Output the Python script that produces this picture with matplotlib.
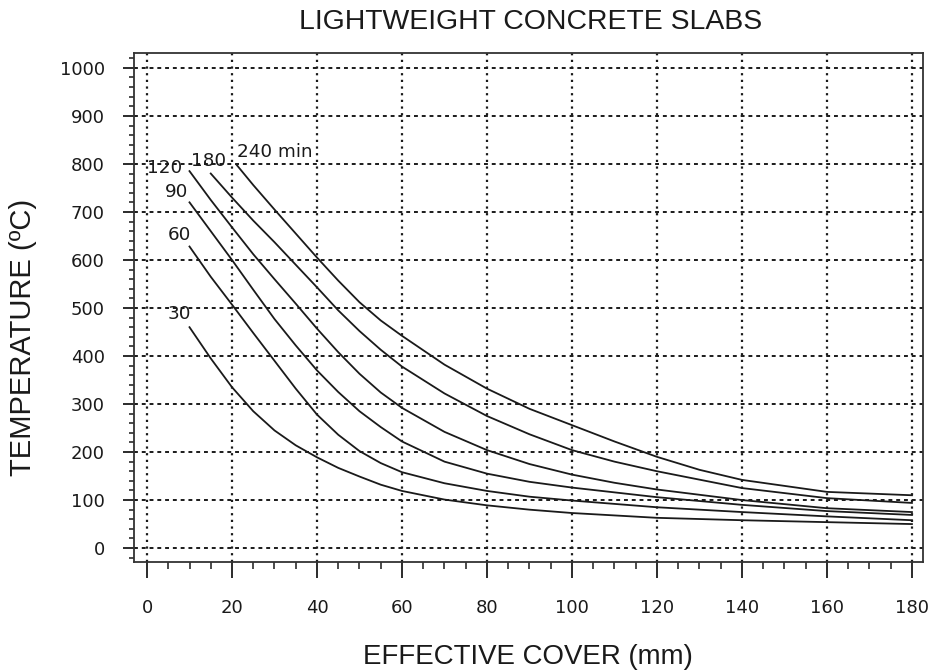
import matplotlib
matplotlib.use("Agg")
import matplotlib.pyplot as plt
from matplotlib.ticker import MultipleLocator

# Fire exposure durations and the label drawn next to each curve
durations = ["30", "60", "90", "120", "180", "240 min"]

# Effective cover (mm) and temperature (deg C) for each fire duration
cover_30 = [10, 15, 20, 25, 30, 35, 40, 45, 50, 55, 60, 70, 80, 90, 100, 110, 120, 140, 160, 180]
temp_30 = [460, 395, 335, 285, 245, 214, 189, 167, 149, 132, 119, 101, 89, 80, 73, 68, 63, 58, 54, 50]

cover_60 = [10, 15, 20, 25, 30, 35, 40, 45, 50, 55, 60, 70, 80, 90, 100, 110, 120, 140, 160, 180]
temp_60 = [628, 565, 507, 448, 390, 332, 278, 236, 202, 177, 158, 135, 119, 107, 99, 92, 85, 75, 66, 58]

cover_90 = [10, 15, 20, 25, 30, 35, 40, 45, 50, 55, 60, 70, 80, 90, 100, 110, 120, 140, 160, 180]
temp_90 = [720, 660, 600, 538, 477, 422, 370, 325, 285, 252, 222, 180, 155, 138, 126, 116, 106, 90, 77, 69]

cover_120 = [10, 15, 20, 25, 30, 35, 40, 45, 50, 55, 60, 70, 80, 90, 100, 110, 120, 140, 160, 180]
temp_120 = [785, 725, 668, 612, 560, 509, 457, 408, 363, 324, 292, 242, 204, 175, 153, 136, 122, 100, 83, 75]

cover_180 = [15, 20, 25, 30, 35, 40, 45, 50, 55, 60, 70, 80, 90, 100, 110, 120, 140, 160, 180]
temp_180 = [780, 730, 682, 637, 590, 543, 495, 452, 413, 378, 322, 275, 237, 204, 180, 160, 125, 104, 94]

cover_240 = [21, 25, 30, 35, 40, 45, 50, 55, 60, 70, 80, 90, 100, 110, 120, 130, 140, 160, 180]
temp_240 = [799, 756, 705, 655, 605, 557, 512, 474, 442, 382, 332, 290, 256, 222, 190, 163, 142, 117, 110]

# Anchor (cover, temperature) of each curve label
label_x = [4.9, 4.9, 4.2, 0.0, 10.4, 21.2]
label_y = [487, 652, 742, 792, 806, 825]

x_ticks = list(range(0, 181, 20))
y_ticks = list(range(0, 1001, 100))

curves = [
    (cover_30, temp_30),
    (cover_60, temp_60),
    (cover_90, temp_90),
    (cover_120, temp_120),
    (cover_180, temp_180),
    (cover_240, temp_240),
]

plt.rcParams["font.family"] = ["DejaVu Sans"]
ink = "#1a1a1a"
label_font = ["Liberation Sans", "DejaVu Sans"]

fig = plt.figure(figsize=(9.32, 6.70), dpi=100)
ax = fig.add_axes([134 / 932, 1 - 562 / 670, (923 - 134) / 932, (562 - 53) / 670])

ax.set_xlim(-3.06, 182.6)
ax.set_ylim(-29, 1031)

# Grid: dashed horizontals, dotted verticals
for yv in y_ticks:
    ax.axhline(yv, color=ink, lw=1.4, ls=(0, (2.0, 2.0)), zorder=1)
for xv in x_ticks:
    ax.axvline(xv, color=ink, lw=1.6, ls=(0, (1.0, 2.0)), zorder=1)

for (cx, ty) in curves:
    ax.plot(cx, ty, color=ink, lw=1.3, zorder=3)

for text, lx, ly in zip(durations, label_x, label_y):
    ax.text(lx, ly, text, ha="left", va="center", fontsize=13.2, color=ink, zorder=4)

ax.xaxis.set_major_locator(MultipleLocator(20))
ax.xaxis.set_minor_locator(MultipleLocator(5))
ax.yaxis.set_major_locator(MultipleLocator(100))
ax.yaxis.set_minor_locator(MultipleLocator(20))
ax.set_xticks(x_ticks)
ax.set_yticks(y_ticks)
ax.set_xticklabels([str(v) for v in x_ticks])
ax.set_yticklabels([str(v) for v in y_ticks])

ax.tick_params(axis="x", which="major", direction="out", length=11.5, width=1.3,
               color=ink, pad=15, labelsize=13, labelcolor=ink)
ax.tick_params(axis="x", which="minor", direction="out", length=5, width=1.1, color=ink)
ax.tick_params(axis="y", which="major", direction="out", length=8, width=1.3,
               color=ink, pad=13, labelsize=13, labelcolor=ink)
ax.tick_params(axis="y", which="minor", direction="out", length=3.6, width=1.1, color=ink)

for side in ["left", "right", "top", "bottom"]:
    ax.spines[side].set_color("#333333")
    ax.spines[side].set_linewidth(1.3)

fig.text(531 / 932, 1 - 22 / 670, "LIGHTWEIGHT CONCRETE SLABS", ha="center", va="center",
         fontsize=20.4, color=ink, family=label_font)
fig.text(528 / 932, 1 - 657 / 670, "EFFECTIVE COVER (mm)", ha="center", va="center",
         fontsize=19.9, color=ink, family=label_font)
fig.text(23 / 932, 1 - 337 / 670, "TEMPERATURE (ºC)", ha="center", va="center",
         rotation=90, fontsize=21, color=ink, family=label_font)

fig.savefig("out.png", dpi=100, facecolor="white")
